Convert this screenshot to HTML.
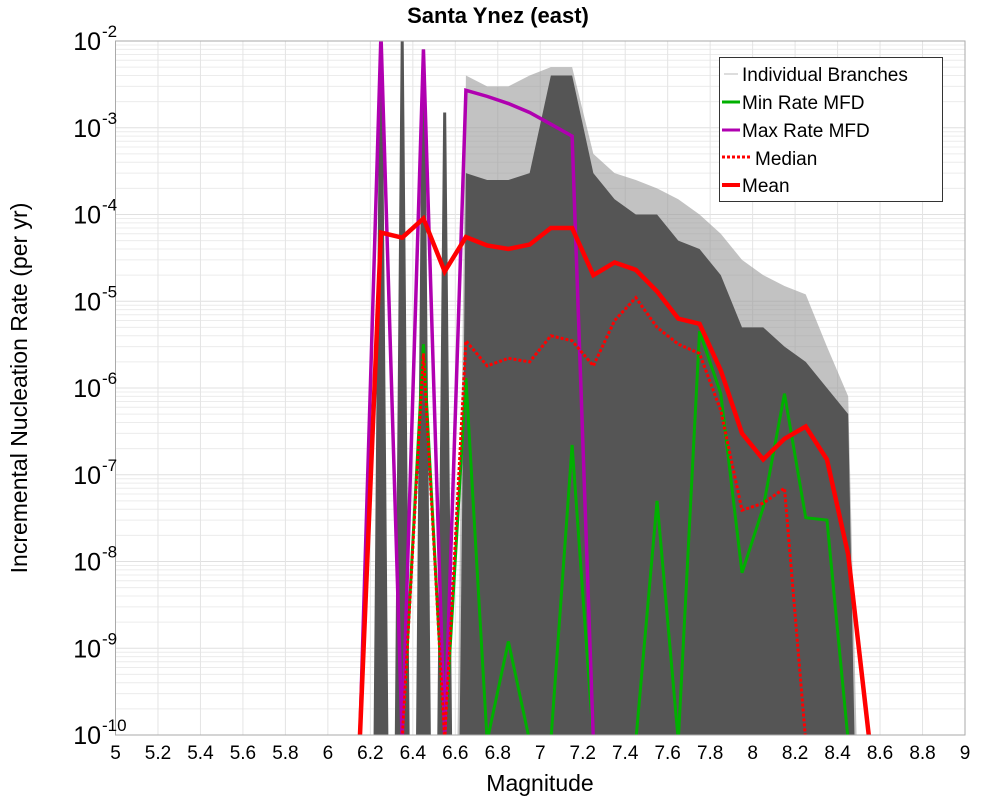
<!DOCTYPE html>
<html><head><meta charset="utf-8"><style>
body{margin:0;background:#fff;}
svg{display:block;font-family:"Liberation Sans","DejaVu Sans",sans-serif;}
</style></head><body>
<svg id="chart" width="1000" height="800" viewBox="0 0 1000 800">
<defs><clipPath id="clip"><rect x="115.5" y="41" width="849.5" height="694"/></clipPath></defs>
<text x="498" y="23" text-anchor="middle" font-size="22" font-weight="bold">Santa Ynez (east)</text>
<g id="grid"></g>
<g id="branches" clip-path="url(#clip)"></g>
<g id="series" clip-path="url(#clip)"></g>
<rect x="115.5" y="41" width="849.5" height="694" fill="none" stroke="#aaa" stroke-width="1"/>
<g id="xticks"></g>
<g id="yticks"></g>
<text x="540" y="791" text-anchor="middle" font-size="23">Magnitude</text>
<text transform="translate(27,388) rotate(-90)" text-anchor="middle" font-size="23">Incremental Nucleation Rate (per yr)</text>
<g>
<rect x="719.5" y="57.5" width="223" height="144" fill="#fff" stroke="#333" stroke-width="1"/>
<g><line x1="724" y1="74" x2="738" y2="74" stroke="#bbb" stroke-width="1"/><text x="742" y="81" font-size="19">Individual Branches</text></g>
<g><line x1="722" y1="102" x2="740" y2="102" stroke="#00b000" stroke-width="3"/><text x="742" y="109" font-size="19">Min Rate MFD</text></g>
<g><line x1="722" y1="130" x2="740" y2="130" stroke="#b000b0" stroke-width="3"/><text x="742" y="137" font-size="19">Max Rate MFD</text></g>
<g><line x1="722" y1="157" x2="750" y2="157" stroke="#f00" stroke-width="3" stroke-dasharray="3,2"/><text x="755" y="165" font-size="19">Median</text></g>
<g><line x1="722" y1="185" x2="740" y2="185" stroke="#f00" stroke-width="4"/><text x="742" y="192" font-size="19">Mean</text></g>
</g>
</svg>
<script>
const mags = [6.15,6.25,6.35,6.45,6.55,6.65,6.75,6.85,6.95,7.05,7.15,7.25,7.35,7.45,7.55,7.65,7.75,7.85,7.95,8.05,8.15,8.25,8.35,8.45,8.55];
const meanVals = [0,6.2e-5,5.4e-5,9e-5,2.2e-5,5.5e-5,4.4e-5,4e-5,4.5e-5,7e-5,7e-5,2e-5,2.8e-5,2.3e-5,1.3e-5,6.3e-6,5.5e-6,1.6e-6,3e-7,1.5e-7,2.6e-7,3.6e-7,1.5e-7,1.2e-8,0];
const medianVals = [0,0,0,2.5e-6,0,3.5e-6,1.8e-6,2.2e-6,2e-6,4e-6,3.5e-6,1.8e-6,6e-6,1.1e-5,5e-6,3.2e-6,2.5e-6,5.5e-7,3.9e-8,4.7e-8,7e-8,0,0,0,0];
const minVals = [0,0,0,3.2e-6,0,1.3e-6,0,1.2e-9,0,0,2.2e-7,0,0,0,5e-8,0,4.5e-6,8.6e-7,7.4e-9,4.2e-8,8.6e-7,3.2e-8,3e-8,0,0];
const maxVals = [0,1.2e-2,0,8e-3,0,2.7e-3,2.3e-3,1.9e-3,1.5e-3,1.1e-3,8e-4,0,0,0,0,0,0,0,0,0,0,0,0,0,0];
const spikeVals = [0,1e-2,1e-2,8e-3,1.5e-3,0,0,0,0,0,0,0,0,0,0,0,0,0,0,0,0,0,0,0,0];
const branchUpper = [0,0,0,0,0,4e-3,3e-3,3e-3,4e-3,5e-3,5e-3,5e-4,3e-4,2.5e-4,2e-4,1.5e-4,1e-4,6e-5,3e-5,2e-5,1.5e-5,1.2e-5,3e-6,8e-7,0];
const branchDense = [0,0,0,0,0,3e-4,2.5e-4,2.5e-4,3e-4,4e-3,4e-3,3e-4,1.5e-4,1e-4,1e-4,5e-5,4e-5,2e-5,5e-6,5e-6,3e-6,2e-6,1e-6,5e-7,0];
const xTicks = [5,5.2,5.4,5.6,5.8,6,6.2,6.4,6.6,6.8,7,7.2,7.4,7.6,7.8,8,8.2,8.4,8.6,8.8,9];
const yExps = [-2,-3,-4,-5,-6,-7,-8,-9,-10];

const X0=115.5,X1=965,Y0=41,Y1=735;
const xs = m => X0+(m-5)/4*(X1-X0);
const ys = v => v<=0 ? Y1+6 : Y0+(-2-Math.log10(v))/8*(Y1-Y0);
const NS='http://www.w3.org/2000/svg';
function mk(tag,attrs,parent){const e=document.createElementNS(NS,tag);for(const k in attrs)e.setAttribute(k,attrs[k]);parent.appendChild(e);return e;}

const grid=document.getElementById('grid');
for(let d=-10;d<-2;d++){for(let k=2;k<=9;k++){const y=ys(k*Math.pow(10,d));const l=mk('line',{x1:X0,x2:X1,y1:y,y2:y,stroke:'#ececec','stroke-width':1},grid);

}}
yExps.forEach(e=>{const y=ys(Math.pow(10,e));const l=mk('line',{x1:X0,x2:X1,y1:y,y2:y,stroke:'#e0e0e0','stroke-width':1},grid);

});
xTicks.forEach(t=>{const x=xs(t);const l=mk('line',{x1:x,x2:x,y1:Y0,y2:Y1,stroke:'#e4e4e4','stroke-width':1},grid);

});

const xt=document.getElementById('xticks');
xTicks.forEach(t=>{const tx=mk('text',{x:xs(t),y:759,'text-anchor':'middle','font-size':19},xt);tx.textContent=String(t);

});
const yt=document.getElementById('yticks');
yExps.forEach(e=>{const y=ys(Math.pow(10,e));const tx=mk('text',{x:101,y:y+9,'text-anchor':'end','font-size':25},yt);tx.textContent='10';


const sp=mk('text',{x:102,y:y-4,'font-size':17},yt);sp.textContent=String(e);

});

const br=document.getElementById('branches');
function envPath(vals,w){let d='';let open=false;
 for(let i=0;i<mags.length;i++){const v=vals[i];const x=xs(mags[i]);
  if(v>0){ if(!open){d+=`M${xs(mags[i]-w)},${Y1+5} `;open=true;} d+=`L${x},${ys(v)} `;}
  else if(open){d+=`L${xs(mags[i-1]+w)},${Y1+5} Z `;open=false;}}
 return d;}
function spikePath(vals,w){let d='';
 for(let i=0;i<mags.length;i++){const v=vals[i];if(v<=0)continue;const x=xs(mags[i]);
  d+=`M${xs(mags[i]-w)},${Y1+5} L${x-1.5},${ys(v)} L${x+1.5},${ys(v)} L${xs(mags[i]+w)},${Y1+5} Z `;}
 return d;}
const pu=mk('path',{d:envPath(branchUpper,0.04),fill:'#9a9a9a','fill-opacity':0.6},br);


const pd=mk('path',{d:envPath(branchDense,0.03),fill:'#555'},br);


const ps=mk('path',{d:spikePath(spikeVals,0.035),fill:'#555'},br);



const se=document.getElementById('series');
function line(vals,attrs){const pts=mags.map((m,i)=>`${xs(m)},${ys(vals[i])}`).join(' ');
 return mk('polyline',Object.assign({points:pts,fill:'none','stroke-linejoin':'miter'},attrs),se);}
const lmin=line(minVals,{stroke:'#00b000','stroke-width':3});


const lmax=line(maxVals,{stroke:'#b000b0','stroke-width':3.5});


const lmed=line(medianVals,{stroke:'#f00','stroke-width':3,'stroke-dasharray':'3,2'});


const lmean=line(meanVals,{stroke:'#f00','stroke-width':4.5});


</script>
</body></html>
